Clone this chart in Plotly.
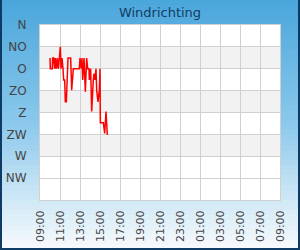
import plotly.graph_objects as go

# ---- data ----
day = "2024-05-01 "
times = ["10:00", "10:02", "10:14", "10:16", "10:22", "10:28", "10:32", "10:38", "10:44",
         "10:50", "10:56", "11:02", "11:06", "11:12", "11:18", "11:22", "11:28", "11:32",
         "11:38", "11:42", "11:48", "12:04", "12:06", "12:10", "12:20", "12:56", "13:00",
         "13:08", "13:12", "13:16", "13:24", "13:32", "13:40", "13:46", "13:54", "13:56",
         "14:04", "14:10", "14:20", "14:24", "14:30", "14:36", "14:40", "14:48", "14:56",
         "15:00", "15:02", "15:20", "15:28", "15:36", "15:44"]
degrees = [68, 90, 90, 68, 68, 90, 68, 90, 68,
           90, 68, 45, 90, 68, 90, 113, 113, 158,
           158, 113, 68, 68, 90, 134, 90, 90, 68,
           90, 68, 113, 68, 137, 68, 90, 90, 113,
           90, 178, 113, 100, 113, 90, 134, 158, 134,
           90, 201, 201, 223, 178, 226]
x_ticks = ["2024-05-01 09:00", "2024-05-01 11:00", "2024-05-01 13:00", "2024-05-01 15:00",
           "2024-05-01 17:00", "2024-05-01 19:00", "2024-05-01 21:00", "2024-05-01 23:00",
           "2024-05-02 01:00", "2024-05-02 03:00", "2024-05-02 05:00", "2024-05-02 07:00",
           "2024-05-02 09:00"]
dir_vals = [0, 45, 90, 135, 180, 225, 270, 315]
dir_labels = ["N", "NO", "O", "ZO", "Z", "ZW", "W", "NW"]
title = "Windrichting"

xs = [day + t for t in times]

fig = go.Figure()
fig.add_trace(go.Scatter(x=xs, y=degrees, mode="lines",
                         line=dict(color="#ff0000", width=1.5), hoverinfo="skip"))

shapes = []
W, H = 300, 250
L, R, T, B = 40, 20, 25, 50
pw, ph = W - L - R, H - T - B
def px_to_paper_x(px):
    return (px - L) / pw
def px_to_paper_y(py):
    return (H - B - py) / ph

stops = [(0, (74, 166, 219)), (125, (140, 201, 236)), (200, (208, 232, 246)), (250, (248, 251, 253))]
def col_at(y):
    for (y0, c0), (y1, c1) in zip(stops[:-1], stops[1:]):
        if y0 <= y <= y1:
            f = (y - y0) / (y1 - y0)
            return "rgb(%d,%d,%d)" % tuple(round(a + (b - a) * f) for a, b in zip(c0, c1))
    return "rgb(%d,%d,%d)" % stops[-1][1]

step = 5
for y in range(0, H, step):
    shapes.append(dict(type="rect", xref="paper", yref="paper", layer="below",
                       x0=px_to_paper_x(0), x1=px_to_paper_x(W),
                       y0=px_to_paper_y(y + step + 0.5), y1=px_to_paper_y(y),
                       fillcolor=col_at(y + step / 2), line=dict(width=0)))

# white plot area
shapes.append(dict(type="rect", xref="paper", yref="paper", layer="below",
                   x0=0, x1=1, y0=0, y1=1, fillcolor="#ffffff", line=dict(width=0)))
# alternating gray bands
for lo in (45, 135, 225):
    shapes.append(dict(type="rect", xref="paper", yref="y", layer="below",
                       x0=0, x1=1, y0=lo, y1=lo + 45,
                       fillcolor="#f2f2f2", line=dict(width=0)))

# outer border (left, right, bottom)
bc = "#0e3a66"
shapes.append(dict(type="line", xref="paper", yref="paper", x0=px_to_paper_x(1), x1=px_to_paper_x(1),
                   y0=px_to_paper_y(0), y1=px_to_paper_y(H), line=dict(color=bc, width=2)))
shapes.append(dict(type="line", xref="paper", yref="paper", x0=px_to_paper_x(W - 1), x1=px_to_paper_x(W - 1),
                   y0=px_to_paper_y(0), y1=px_to_paper_y(H), line=dict(color=bc, width=2)))
shapes.append(dict(type="line", xref="paper", yref="paper", x0=px_to_paper_x(0), x1=px_to_paper_x(W),
                   y0=px_to_paper_y(H - 1), y1=px_to_paper_y(H - 1), line=dict(color=bc, width=2)))

fig.update_layout(
    width=W, height=H,
    margin=dict(l=L, r=R, t=T, b=B, pad=0, autoexpand=False),
    paper_bgcolor="#ffffff",
    plot_bgcolor="rgba(0,0,0,0)",
    showlegend=False,
    font=dict(family="DejaVu Sans", size=11, color="#444444"),
    title=dict(text=title, x=0.5, xref="paper", xanchor="center", y=1 - 12 / H, yanchor="middle",
               font=dict(family="DejaVu Sans", size=13, color="#123c66")),
    shapes=shapes,
    xaxis=dict(type="date", range=[x_ticks[0], x_ticks[-1]], tickvals=x_ticks, automargin=False,
               tickformat="%H:%M", tickangle=-90, showgrid=True, gridcolor="#d0d0d0",
               gridwidth=1, showline=True, linecolor="#d0d0d0", linewidth=1, mirror=True,
               ticks="outside", ticklen=5, tickcolor="rgba(0,0,0,0)", zeroline=False,
               tickfont=dict(size=11, color="#444444")),
    yaxis=dict(range=[360, 0], tickvals=dir_vals, ticktext=dir_labels, showgrid=True,
               automargin=False,
               gridcolor="#d0d0d0", gridwidth=1, showline=True, linecolor="#d0d0d0",
               linewidth=1, mirror=True, ticks="outside", ticklen=10,
               tickcolor="rgba(0,0,0,0)", zeroline=False,
               tickfont=dict(size=12, color="#444444")),
)

fig.write_html("out.html")
